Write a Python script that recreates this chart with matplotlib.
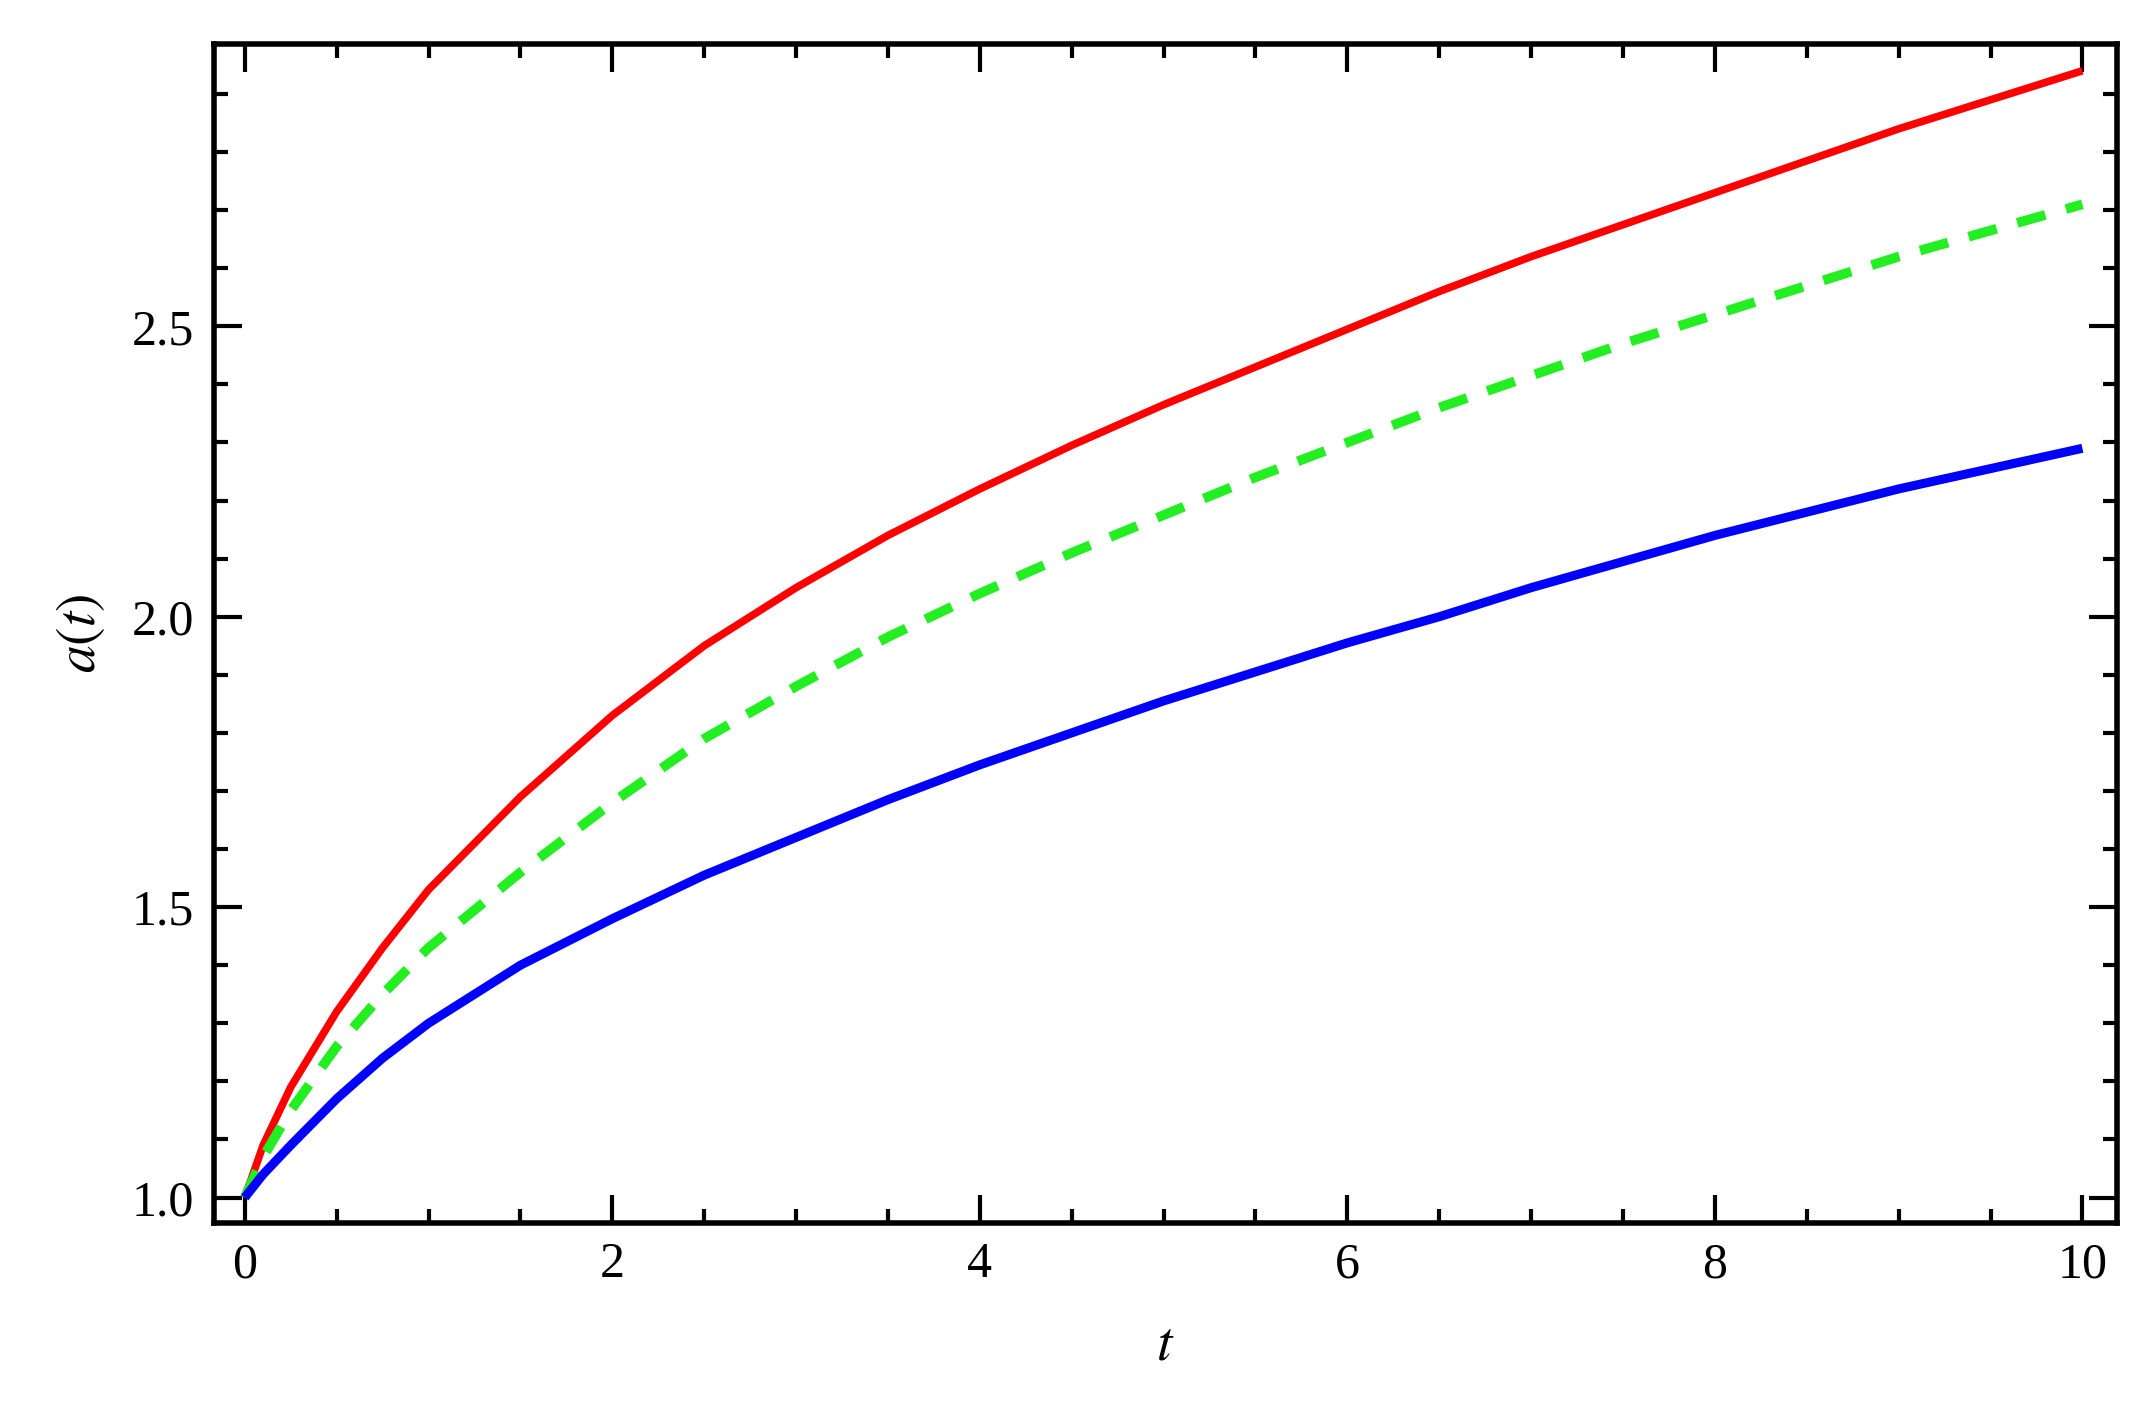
import matplotlib
matplotlib.use("Agg")
import matplotlib.pyplot as plt
from matplotlib.ticker import MultipleLocator, FormatStrFormatter

t = [0, 0.1, 0.25, 0.5, 0.75, 1, 1.5, 2, 2.5, 3, 3.5, 4, 4.5, 5, 5.5, 6, 6.5, 7, 7.5, 8, 8.5, 9, 9.5, 10]
a_red = [1.0, 1.09, 1.19, 1.32, 1.43, 1.53, 1.69, 1.83, 1.95, 2.05, 2.14, 2.22, 2.295, 2.365,
         2.43, 2.495, 2.56, 2.62, 2.675, 2.73, 2.785, 2.84, 2.89, 2.94]
a_green = [1.0, 1.07, 1.15, 1.26, 1.35, 1.43, 1.56, 1.68, 1.79, 1.88, 1.965, 2.04, 2.11, 2.175,
           2.24, 2.30, 2.36, 2.415, 2.47, 2.52, 2.57, 2.62, 2.665, 2.71]
a_blue = [1.0, 1.04, 1.09, 1.17, 1.24, 1.30, 1.40, 1.48, 1.555, 1.62, 1.685, 1.745, 1.80, 1.855,
          1.905, 1.955, 2.0, 2.05, 2.095, 2.14, 2.18, 2.22, 2.255, 2.29]

plt.rcParams['font.family'] = ['Liberation Serif', 'DejaVu Serif']
plt.rcParams['mathtext.fontset'] = 'stix'

fig = plt.figure(figsize=(21.49, 14.18), dpi=100)
ax = fig.add_axes([155/1560, 1 - 888/1030, (1537-155)/1560, (888-32)/1030])

ax.plot(t, a_red, color='red', lw=5.5, solid_capstyle='butt')
ax.plot(t, a_green, color='#22ee22', lw=7, dashes=(3, 2.2))
ax.plot(t, a_blue, color='blue', lw=6.5, solid_capstyle='butt')

ax.set_xlim(-0.17, 10.19)
ax.set_ylim(0.957, 2.986)
ax.xaxis.set_major_locator(MultipleLocator(2))
ax.xaxis.set_minor_locator(MultipleLocator(0.5))
ax.yaxis.set_major_locator(MultipleLocator(0.5))
ax.yaxis.set_minor_locator(MultipleLocator(0.1))
ax.yaxis.set_major_formatter(FormatStrFormatter('%.1f'))
ax.tick_params(which='both', direction='in', top=True, right=True, labelsize=36, width=3)
ax.tick_params(which='major', length=20, pad=14)
ax.tick_params(which='minor', length=10)
for s in ax.spines.values():
    s.set_linewidth(4)
ax.set_xlabel('$t$', fontsize=40, labelpad=22)
ax.set_ylabel('$a(t)$', fontsize=40, labelpad=18)
fig.savefig('out.png', dpi=100)
